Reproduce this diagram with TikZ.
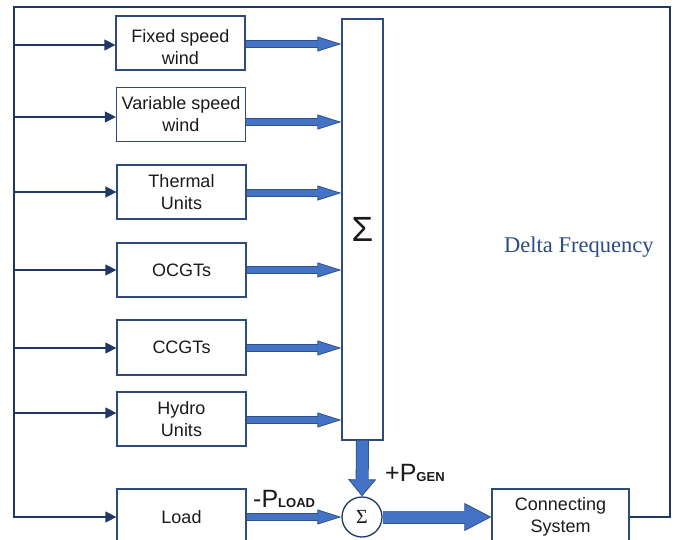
\documentclass[tikz,border=0pt]{standalone}
\usepackage{fontspec}
\setmainfont{Liberation Sans}
\newfontfamily\seriffam{Liberation Serif}
\usetikzlibrary{arrows.meta}
\definecolor{navy}{HTML}{1F3864}
\definecolor{boxline}{HTML}{2F4A7C}
\definecolor{afill}{HTML}{4472C4}
\definecolor{aedge}{HTML}{2F528F}
\definecolor{dfcol}{HTML}{2B4A86}
\definecolor{txt}{HTML}{1A1A1A}
\begin{document}
\begin{tikzpicture}[x=1pt,y=-1pt,
  box/.style={draw=boxline,line width=1.3pt,minimum width=129pt,minimum height=54pt,
    inner sep=0pt,align=center,font=\fontsize{18}{22}\selectfont,text=txt},
  feed/.style={draw=navy,line width=1.5pt},
  tarrow/.style={feed,-{Triangle[length=11pt,width=11pt]}},
  fat/.style n args={3}{draw=aedge,line width=#1,
    -{Triangle[length=#2,width=#3,line width=0.8pt,fill=afill]},
    postaction={draw=afill,line width=#1-1.6pt,-,shorten >=#2-2pt}},
  lbl/.style={anchor=base west,inner sep=0pt,text=txt}
]
\useasboundingbox (0,0) rectangle (674,540);
\clip (0,0) rectangle (674,540);

% generator boxes
\node[box] (fsw) at (180.5,43) {\rule{0pt}{21pt}Fixed speed\\wind};
\node[box] (vsw) at (181,114.5) {Variable speed\\wind};
\node[box] (thu) at (181.5,192) {Thermal\\Units};
\node[box] (ocg) at (181.5,270) {OCGTs};
\node[box,minimum height=55pt] (ccg) at (181.5,347.5) {CCGTs};
\node[box] (hyd) at (181.5,419) {Hydro\\Units};
\node[box,minimum height=56pt] (load) at (181.5,517) {Load};

% summation box
\node[draw=boxline,line width=1.3pt,minimum width=41pt,minimum height=421pt,inner sep=0pt,
  font=\fontsize{35}{35}\selectfont,text=txt] (sig) at (362.5,229.5) {Σ};

% summing junction
\node[draw=navy,line width=1.3pt,circle,minimum size=40pt,inner sep=0pt,
  font=\seriffam\fontsize{20}{20}\selectfont,text=txt] (sc) at (362,517) {Σ};

% connecting system
\node[box,minimum width=137pt,minimum height=56pt] (cs) at (560.5,517) {Connecting\\System};

% feedback loop
\coordinate (fbR) at (670,7);
\coordinate (fbL) at (14,7);
\draw[tarrow] (cs.east) -| (fbR) -- (fbL) |- (load.west);
\foreach \n/\yy in {fsw/45,vsw/117,thu/192,ocg/270,ccg/348,hyd/413}
  \draw[tarrow] (fbL |- 0,\yy) -- (\n.west |- 0,\yy);

% generator outputs
\foreach \n/\yy in {fsw/44,vsw/122,thu/193,ocg/270,ccg/348,hyd/420}
  \draw[fat={8pt}{24pt}{15pt}] (\n.east |- 0,\yy) -- (sig.west |- 0,\yy);

\draw[fat={13pt}{17pt}{28pt}] (sig.south) -- (sc.north);
\draw[fat={8pt}{24pt}{15pt}] (load.east) -- (sc.west);
\draw[fat={13pt}{27pt}{28pt}] (sc.east) -- (cs.west);

% labels
\node[lbl] (pload) at (253,507) {{\fontsize{25}{25}\selectfont -P}{\fontsize{13}{13}\selectfont\bfseries LOAD}};
\node[lbl] (pgen) at (385,481) {{\fontsize{25}{25}\selectfont +P}{\fontsize{13}{13}\selectfont\bfseries GEN}};
\node[anchor=base west,inner sep=0pt,font=\seriffam\fontsize{22.5}{22.5}\selectfont,text=dfcol]
  (df) at (504,252) {Delta Frequency};
\end{tikzpicture}
\end{document}
